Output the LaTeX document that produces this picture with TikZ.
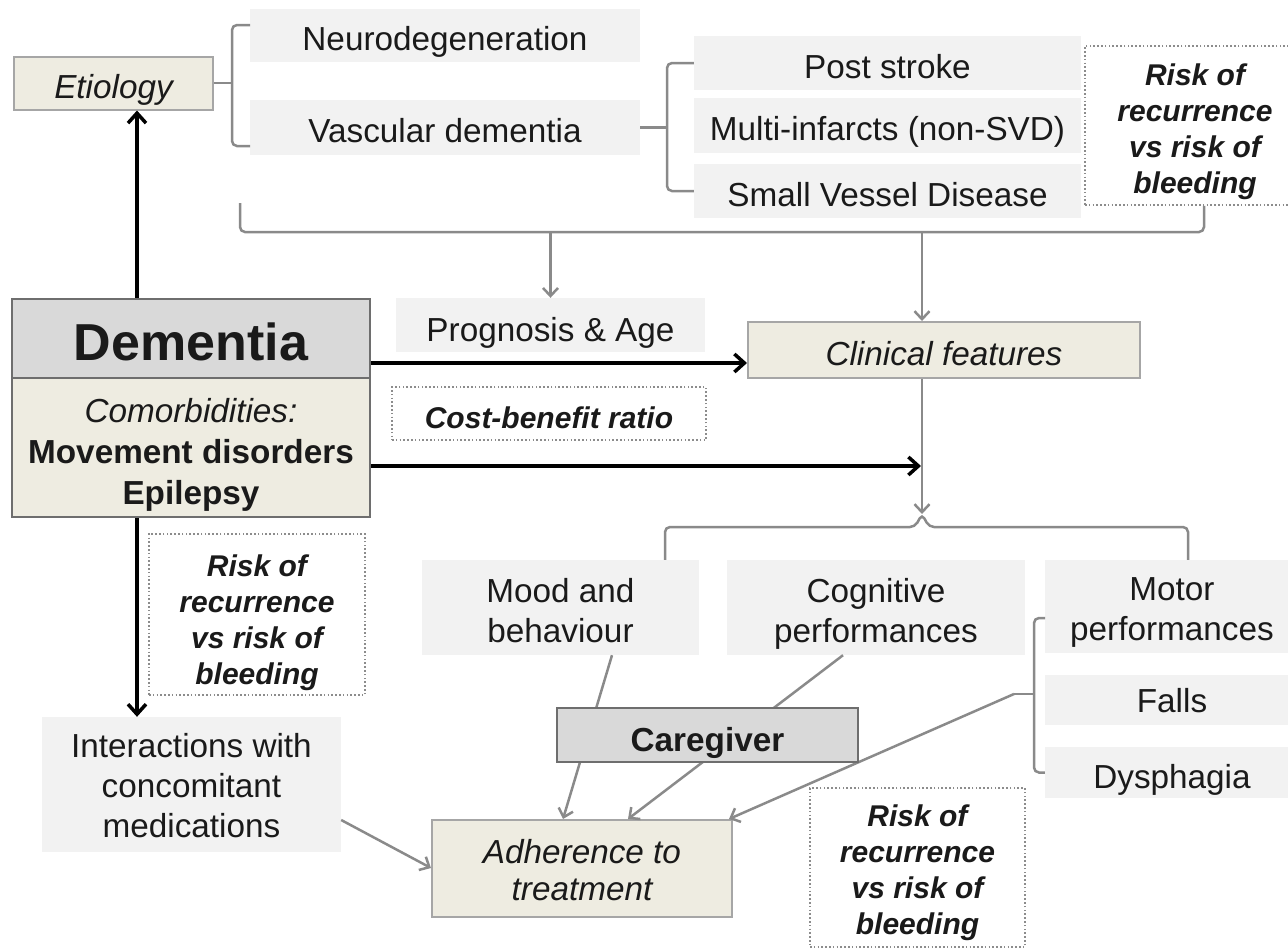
\documentclass[tikz,border=0pt]{standalone}
\usepackage{fontspec}
\setmainfont{Liberation Sans}
\usetikzlibrary{arrows.meta}
\definecolor{lightfill}{HTML}{F2F2F2}
\definecolor{beige}{HTML}{EEECE1}
\definecolor{beigeline}{HTML}{A6A6A6}
\definecolor{demfill}{HTML}{D9D9D9}
\definecolor{demline}{HTML}{6E6E6E}
\definecolor{conn}{HTML}{8A8A8A}
\definecolor{dotline}{HTML}{8C8C8C}
\definecolor{txt}{HTML}{1A1A1A}
\newcommand\txtA{\fontsize{33.3}{40}\selectfont}
\newcommand\txtC{\fontsize{33.3}{41}\selectfont}
\newcommand\txtB{\fontsize{33.3}{37}\selectfont}
\newcommand\txtR{\fontsize{30}{36}\selectfont\bfseries\itshape}
\newcommand\txtD{\fontsize{52}{60}\selectfont\bfseries}
\begin{document}
\begin{tikzpicture}[x=1pt,y=-1pt,
  every node/.style={inner sep=0pt, align=center, text=txt},
  % baseline of the last text line sits at centre + (lift/2)
  lift/.style={text height=#1, text depth=0pt},
  lift/.default=30pt,
  lbox/.style={fill=lightfill, font=\txtA},
  bbox/.style={fill=beige, draw=beigeline, line width=2pt, font=\txtA\itshape},
  dbox/.style={fill=demfill, draw=demline, line width=2.5pt},
  riskbox/.style={draw=dotline, line width=1.6pt, dash pattern=on 1.6pt off 2.2pt, font=\txtR},
  blk/.style={draw=black, line width=3.5pt, -{Straight Barb[length=10pt,width=18pt]}},
  gry/.style={draw=conn, line width=2.5pt, -{Straight Barb[length=8pt,width=15pt]}},
  brace/.style={draw=conn, line width=2.5pt, rounded corners=5pt}
]
\useasboundingbox (0,0) rectangle (1288,948);

% ---- etiology branch ----
\node[bbox, lift, minimum width=199pt, minimum height=53pt] (eti) at (113.5,83) {Etiology};
\node[lbox, lift, minimum width=390pt, minimum height=53pt] (neuro) at (445,35.5) {Neurodegeneration};
\node[lbox, lift, minimum width=390pt, minimum height=55pt] (vasc) at (445,127.5) {Vascular dementia};
\node[lbox, lift, minimum width=387pt, minimum height=54pt] (post) at (887.5,63) {Post stroke};
\node[lbox, lift, minimum width=387pt, minimum height=55pt] (multi) at (887.5,125.5) {Multi-infarcts (non-SVD)};
\node[lbox, lift, minimum width=387pt, minimum height=54pt] (svd) at (887.5,191) {Small Vessel Disease};
\node[riskbox, lift=135pt, minimum width=220pt, minimum height=159pt] (risk1) at (1195,125.5)
  {Risk of\\recurrence\\vs risk of\\bleeding};

% ---- central row ----
\node[lbox, lift=32pt, minimum width=309pt, minimum height=54pt] (prog) at (550.5,325) {Prognosis \& Age};
\node[bbox, lift, minimum width=392pt, minimum height=56pt] (clin) at (944,350) {Clinical features};
\node[dbox, fill=beige, font=\txtC, lift=113pt, minimum width=358pt, minimum height=139pt] (comor) at (191,447.5)
  {\textit{Comorbidities:}\\\textbf{Movement disorders}\\\textbf{Epilepsy}};
\node[dbox, font=\txtD, lift=44pt, minimum width=358pt, minimum height=79pt] (dem) at (191,338.5) {Dementia};
\node[riskbox, lift, minimum width=314pt, minimum height=53pt] (cost) at (549,413.5) {Cost-benefit ratio};

% ---- clinical features ----
\node[lbox, lift=69pt, minimum width=277pt, minimum height=95pt] (mood) at (560.5,607.5) {Mood and\\behaviour};
\node[lbox, lift=69pt, minimum width=298pt, minimum height=95pt] (cog) at (876,607.5) {Cognitive\\performances};
\node[lbox, lift=67pt, minimum width=254pt, minimum height=93pt] (motor) at (1172,606.5) {Motor\\performances};
\node[lbox, lift=24pt, minimum width=254pt, minimum height=50pt] (falls) at (1172,700) {Falls};
\node[lbox, lift=32pt, minimum width=254pt, minimum height=51pt] (dys) at (1172,772.5) {Dysphagia};

% ---- lower part ----
\node[riskbox, lift=139pt, minimum width=216pt, minimum height=161pt] (risk2) at (257,614.5)
  {Risk of\\recurrence\\vs risk of\\bleeding};
\node[lbox, lift=105pt, minimum width=299pt, minimum height=135pt] (inter) at (191.5,784.5)
  {Interactions with\\concomitant\\medications};
\node[bbox, font=\txtB\itshape, lift=63pt, minimum width=300pt, minimum height=97pt] (adh) at (582,868.5)
  {Adherence to\\treatment};
\node[riskbox, lift=133pt, minimum width=215pt, minimum height=159pt] (risk3) at (917.5,867.5)
  {Risk of\\recurrence\\vs risk of\\bleeding};

% ---- helper coordinates ----
\coordinate (xa) at (137,0);
\coordinate (ya) at (0,363);
\coordinate (cfj) at (922,466);
\coordinate (xc) at (922,0);
\coordinate (tb) at (0,232);
\coordinate (tbL) at (240,203);
\coordinate (tbR) at (1204,232);
\coordinate (b1t) at (250,25);
\coordinate (b1b) at (250,146);
\coordinate (b1x) at (232,0);
\coordinate (b2x) at (667,0);
\coordinate (apex) at (922,514);
\coordinate (cbL) at (665,527);
\coordinate (cbR) at (1188,527);
\coordinate (apL) at (915,527);
\coordinate (apR) at (929,527);
\coordinate (mtop) at (1045,618);
\coordinate (mbx) at (1034,0);
\coordinate (mtip) at (1014,694);
\coordinate (moodx) at (612,0);
\coordinate (moodt) at (563,0);
\coordinate (cogx) at (843,0);
\coordinate (cogt) at (628,0);
\coordinate (y820) at (0,820);
\coordinate (y868) at (0,868);

% ---- black arrows ----
\draw[blk] (dem.north -| xa) -- (eti.south -| xa);
\draw[blk] (dem.east |- ya) -- (clin.west |- ya);
\draw[blk, shorten >=1pt] (comor.east |- cfj) -- (cfj);
\draw[blk] (comor.south -| xa) -- (inter.north -| xa);

% ---- braces of the etiology branch ----
\draw[brace] (b1t) -- (b1t -| b1x) -- (b1b -| b1x) -- (b1b);
\draw[draw=conn, line width=2.5pt] (eti.east) -- (eti.east -| b1x);
\draw[brace] (post.west) -- (post.west -| b2x) -- (svd.west -| b2x) -- (svd.west);
\draw[draw=conn, line width=2.5pt] (vasc.east) -- (vasc.east -| b2x);
\draw[brace] (tbL) -- (tbL |- tb) -- (tbR) -- (tbR |- risk1.south);
\draw[gry] (prog.north |- tb) -- (prog.north);
\draw[gry] (xc |- tb) -- (clin.north -| xc);

% ---- clinical features split ----
\draw[gry] (clin.south -| xc) -- (apex);
\draw[brace] (mood.north -| cbL) -- (cbL) -- (apL) -- (apex) -- (apR) -- (cbR) -- (motor.north -| cbR);
\draw[brace] (mtop) -- (mtop -| mbx) -- (dys.west -| mbx) -- (dys.west);
\draw[draw=conn, line width=2.5pt] (mtip -| mbx) -- (mtip);

% ---- links to adherence ----
\draw[gry] (mtip) -- ([xshift=-4pt]adh.north east);
\draw[gry] (mood.south -| moodx) -- (adh.north -| moodt);
\draw[gry] (cog.south -| cogx) -- (adh.north -| cogt);
\draw[gry] (inter.east |- y820) -- (adh.west |- y868);

% caregiver sits over the two links that pass behind it
\node[dbox, font=\txtA\bfseries, lift=32pt, minimum width=301pt, minimum height=54pt] (care) at (707.5,735) {Caregiver};
\end{tikzpicture}
\end{document}
